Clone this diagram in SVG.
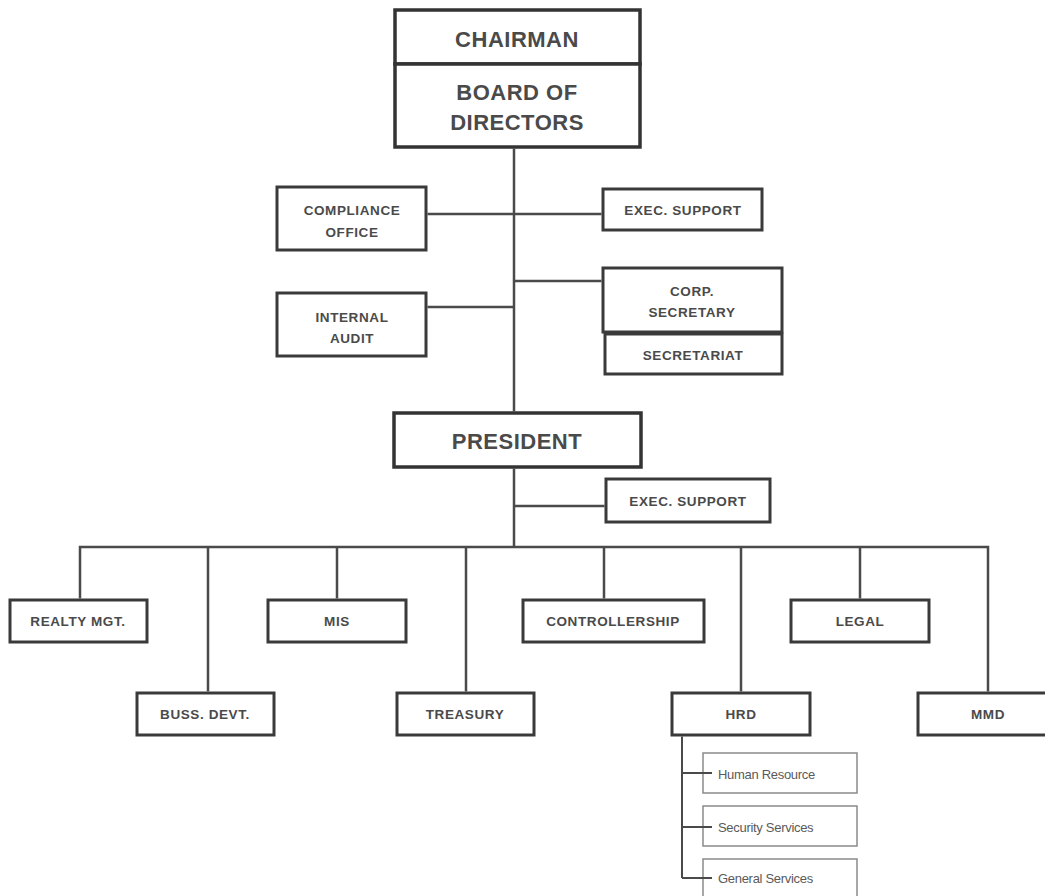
<svg xmlns="http://www.w3.org/2000/svg" width="1045" height="896" viewBox="0 0 1045 896">
<style>
.bx{fill:#fff;stroke:#3a3a3a;stroke-width:3}
.bm{fill:#fff;stroke:#333;stroke-width:3.5}
.bs{fill:#fff;stroke:#8a8a8a;stroke-width:1.5}
.ln{stroke:#4a4a4a;stroke-width:2.5;fill:none}
.t{font-family:"Liberation Sans",Arial,sans-serif;font-weight:bold;fill:#4a4a4a;text-anchor:middle}
.tl{font-size:22px;letter-spacing:0.5px}
.tm{font-size:13.5px;letter-spacing:0.6px}
.ts{font-family:"Liberation Sans",Arial,sans-serif;font-size:13px;fill:#5a5a5a;letter-spacing:-0.3px}
</style>
<rect width="1045" height="896" fill="#fff"/>
<g id="chairman"><rect class="bm" x="395" y="10" width="245" height="54"/><text class="t tl" x="517" y="47">CHAIRMAN</text></g>
<g id="board"><rect class="bm" x="395" y="64" width="245" height="83"/><text class="t tl" x="517" y="100">BOARD OF</text><text class="t tl" x="517" y="130">DIRECTORS</text></g>
<g id="compliance"><rect class="bx" x="277" y="187" width="149" height="63"/><text class="t tm" x="352" y="215">COMPLIANCE</text><text class="t tm" x="352" y="237">OFFICE</text></g>
<g id="exec1"><rect class="bx" x="603" y="189" width="159" height="41"/><text class="t tm" x="683" y="215">EXEC. SUPPORT</text></g>
<g id="internal-audit"><rect class="bx" x="277" y="293" width="149" height="63"/><text class="t tm" x="352" y="322">INTERNAL</text><text class="t tm" x="352" y="343">AUDIT</text></g>
<g id="corp-secretary"><rect class="bx" x="603" y="268" width="179" height="64"/><text class="t tm" x="692" y="296">CORP.</text><text class="t tm" x="692" y="317">SECRETARY</text></g>
<g id="secretariat"><rect class="bx" x="605" y="334" width="177" height="40"/><text class="t tm" x="693" y="360">SECRETARIAT</text></g>
<g id="president"><rect class="bm" x="394" y="413" width="247" height="54"/><text class="t tl" x="517" y="449">PRESIDENT</text></g>
<g id="exec2"><rect class="bx" x="606" y="479" width="164" height="43"/><text class="t tm" x="688" y="506">EXEC. SUPPORT</text></g>
<g id="realty"><rect class="bx" x="10" y="600" width="137" height="42"/><text class="t tm" x="78" y="626">REALTY MGT.</text></g>
<g id="mis"><rect class="bx" x="268" y="600" width="138" height="42"/><text class="t tm" x="337" y="626">MIS</text></g>
<g id="controllership"><rect class="bx" x="523" y="600" width="181" height="42"/><text class="t tm" x="613" y="626">CONTROLLERSHIP</text></g>
<g id="legal"><rect class="bx" x="791" y="600" width="138" height="42"/><text class="t tm" x="860" y="626">LEGAL</text></g>
<g id="buss-devt"><rect class="bx" x="137" y="693" width="137" height="42"/><text class="t tm" x="205" y="719">BUSS. DEVT.</text></g>
<g id="treasury"><rect class="bx" x="397" y="693" width="137" height="42"/><text class="t tm" x="465" y="719">TREASURY</text></g>
<g id="hrd"><rect class="bx" x="672" y="693" width="138" height="42"/><text class="t tm" x="741" y="719">HRD</text></g>
<g id="mmd"><rect class="bx" x="918" y="693" width="140" height="42"/><text class="t tm" x="988" y="719">MMD</text></g>
<g id="human-resource"><rect class="bs" x="703" y="753" width="154" height="40"/><text class="ts" x="718" y="779">Human Resource</text></g>
<g id="security-services"><rect class="bs" x="703" y="806" width="154" height="40"/><text class="ts" x="718" y="832">Security Services</text></g>
<g id="general-services"><rect class="bs" x="703" y="859" width="154" height="40"/><text class="ts" x="718" y="883">General Services</text></g>
<g id="connectors">
<path class="ln" d="M514 148.5V411.5M514 468.5V547"/>
<path class="ln" d="M427.5 214H601.5M514 281H601.5M427.5 307H514M514 506H604.5"/>
<path class="ln" d="M80 598.5V547H988V691.5M208 547V691.5M337 547V598.5M466 547V691.5M604 547V598.5M741 547V691.5M860 547V598.5"/>
<path class="ln" d="M682 736.5V878M682 773H712M682 827H712M682 878H712" style="stroke-width:2"/>
</g>
</svg>
